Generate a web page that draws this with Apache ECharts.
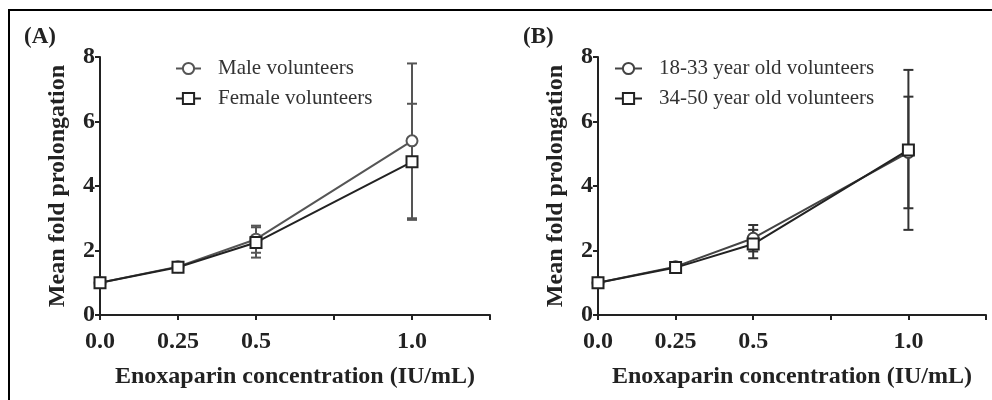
<!DOCTYPE html>
<html>
<head>
<meta charset="utf-8">
<title>Enoxaparin fold prolongation</title>
<script src="https://cdn.jsdelivr.net/npm/echarts@6/dist/echarts.min.js"></script>
<style>
  body { margin: 0; background: #fff; }
  #wrap { position: relative; width: 992px; height: 400px; }
  #chart { width: 992px; height: 400px; }
  #frame { position: absolute; left: 8px; top: 9px; right: 0; bottom: 0; border-left: 2px solid #000; border-top: 2px solid #000; pointer-events: none; }
</style>
</head>
<body>
<div id="wrap">
  <div id="chart"></div>
  <div id="frame"></div>
</div>
<script>
// enoxaparin concentrations (IU/mL)
const conc = [0, 0.25, 0.5, 1.0]
const xTickValues = [0, 0.25, 0.5, 1.0]
const xTickLabels = ['0.0', '0.25', '0.5', '1.0']

// panel A - by sex
const maleMean = [1.0, 1.5, 2.35, 5.4]
const maleSD = [0.05, 0.1, 0.42, 2.4]
const femaleMean = [1.0, 1.48, 2.25, 4.75]
const femaleSD = [0.05, 0.1, 0.47, 1.8]

// panel B - by age
const youngMean = [1.0, 1.5, 2.38, 5.04]
const youngSD = [0.05, 0.1, 0.41, 1.73]
const olderMean = [1.0, 1.47, 2.2, 5.12]
const olderSD = [0.05, 0.1, 0.44, 2.48]

const serif = '"Liberation Serif", "Times New Roman", serif'
const ink = '#222'

function xAxisFor(gi) {
    return {
        type: 'value', gridIndex: gi, min: 0, max: 1.25, interval: 0.25,
        name: 'Enoxaparin concentration (IU/mL)',
        nameLocation: 'middle', nameGap: 50,
        nameTextStyle: { fontFamily: serif, fontWeight: 'bold', fontSize: 24, color: ink },
        axisLine: { show: true, onZero: false, lineStyle: { color: ink, width: 2 } },
        axisTick: { show: true, length: 5, lineStyle: { color: ink, width: 2 } },
        splitLine: { show: false },
        axisLabel: {
            margin: 15, fontFamily: serif, fontWeight: 'bold', fontSize: 24, color: ink,
            formatter: v => {
                const i = xTickValues.indexOf(v)
                return i >= 0 ? xTickLabels[i] : ''
            }
        }
    }
}

function yAxisFor(gi) {
    return {
        type: 'value', gridIndex: gi, min: 0, max: 8, interval: 2,
        name: 'Mean fold prolongation',
        nameLocation: 'middle', nameGap: 30, nameRotate: 90,
        nameTextStyle: { fontFamily: serif, fontWeight: 'bold', fontSize: 24, color: ink },
        axisLine: { show: true, lineStyle: { color: ink, width: 2 } },
        axisTick: { show: true, length: 5, lineStyle: { color: ink, width: 2 } },
        splitLine: { show: false },
        axisLabel: { margin: 5, fontFamily: serif, fontWeight: 'bold', fontSize: 24, color: ink }
    }
}

function lineSeries(name, mean, symbol, color, gi) {
    return {
        type: 'line', name: name, xAxisIndex: gi, yAxisIndex: gi, z: 3,
        data: conc.map((c, i) => [c, mean[i]]),
        symbol: symbol, symbolSize: 11,
        lineStyle: { color: color, width: 2 },
        itemStyle: { color: color, borderColor: color, borderWidth: 2 }
    }
}

function errorSeries(name, mean, sd, color, gi) {
    return {
        type: 'custom', name: name, xAxisIndex: gi, yAxisIndex: gi, z: 2, silent: true,
        data: conc.map((c, i) => [c, mean[i] - sd[i], mean[i] + sd[i]]),
        encode: { x: 0, y: [1, 2] },
        renderItem: function (params, api) {
            const hi = api.coord([api.value(0), api.value(2)])
            const lo = api.coord([api.value(0), api.value(1)])
            const w = 5
            const st = { stroke: color, lineWidth: 2 }
            return {
                type: 'group',
                children: [
                    { type: 'line', shape: { x1: hi[0], y1: hi[1], x2: lo[0], y2: lo[1] }, style: st },
                    { type: 'line', shape: { x1: hi[0] - w, y1: hi[1], x2: hi[0] + w, y2: hi[1] }, style: st },
                    { type: 'line', shape: { x1: lo[0] - w, y1: lo[1], x2: lo[0] + w, y2: lo[1] }, style: st }
                ]
            }
        }
    }
}

function legendFor(names, left, itemWidth) {
    return {
        data: names, orient: 'vertical', left: left, top: 58, padding: 0,
        itemWidth: itemWidth, itemHeight: 14, itemGap: 9,
        selectedMode: false,
        textStyle: { fontFamily: serif, fontSize: 21, color: '#333', lineHeight: 21, padding: [0, 0, 0, 12] }
    }
}

const titleStyle = { fontFamily: serif, fontWeight: 'bold', fontSize: 23, color: ink }

const myChart = echarts.init(document.getElementById('chart'), null, { renderer: 'canvas' })

const option = {
    animation: false,
    backgroundColor: '#fff',
    title: [
        { text: '(A)', left: 24, top: 26, padding: 0, textStyle: titleStyle },
        { text: '(B)', left: 523, top: 26, padding: 0, textStyle: titleStyle }
    ],
    legend: [
        legendFor(['Male volunteers', 'Female volunteers'], 175, 25),
        legendFor(['18-33 year old volunteers', '34-50 year old volunteers'], 614, 27)
    ],
    grid: [
        { left: 100, top: 57, width: 390, height: 258 },
        { left: 598, top: 57, width: 388, height: 258 }
    ],
    xAxis: [xAxisFor(0), xAxisFor(1)],
    yAxis: [yAxisFor(0), yAxisFor(1)],
    series: [
        errorSeries('Male SD', maleMean, maleSD, '#555', 0),
        errorSeries('Female SD', femaleMean, femaleSD, '#555', 0),
        lineSeries('Male volunteers', maleMean, 'emptyCircle', '#555', 0),
        lineSeries('Female volunteers', femaleMean, 'emptyRect', '#222', 0),
        errorSeries('18-33 SD', youngMean, youngSD, '#333', 1),
        errorSeries('34-50 SD', olderMean, olderSD, '#333', 1),
        lineSeries('18-33 year old volunteers', youngMean, 'emptyCircle', '#444', 1),
        lineSeries('34-50 year old volunteers', olderMean, 'emptyRect', '#222', 1)
    ]
}

myChart.setOption(option)
</script>
</body>
</html>
